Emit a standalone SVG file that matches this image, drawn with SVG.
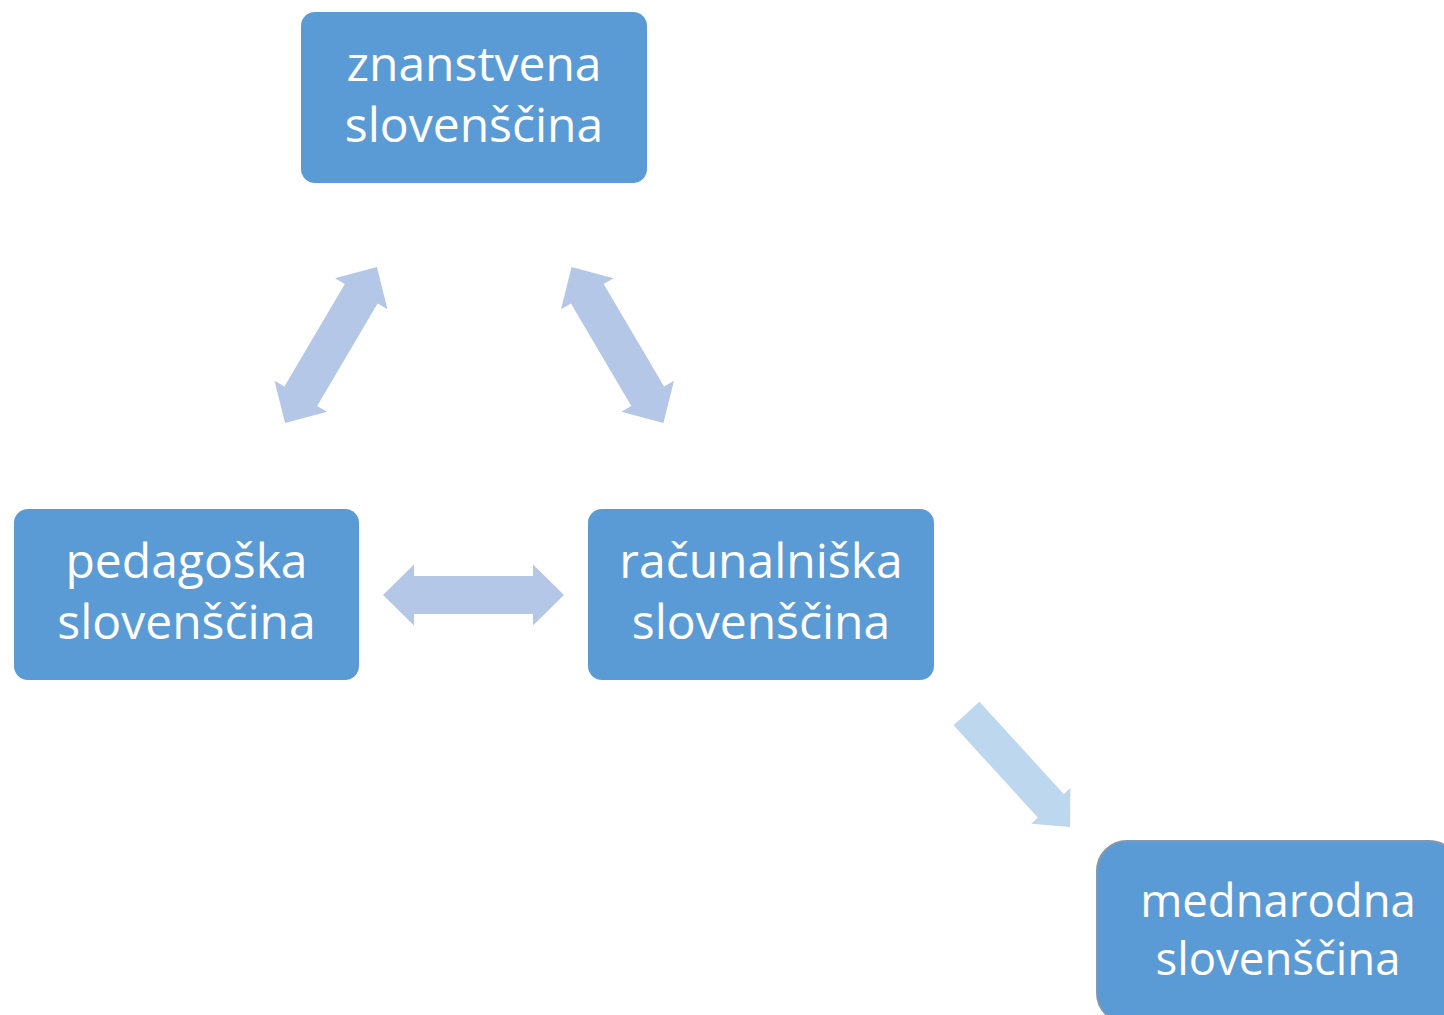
<svg xmlns="http://www.w3.org/2000/svg" width="1444" height="1015" viewBox="0 0 1444 1015">
<defs>
<style>
.box{fill:#5B9BD5}
.lbl{font-family:"Open Sans","Noto Sans","Liberation Sans",sans-serif;font-size:48px;fill:#FFFFFF;text-anchor:middle}
.sm{font-size:45.5px}
.dbl{fill:#B4C7E7}
.sgl{fill:#BDD7EE}
</style>
<polygon id="dblArrow" points="-90.5,0 -59.5,-30.5 -59.5,-19 59.5,-19 59.5,-30.5 90.5,0 59.5,30.5 59.5,19 -59.5,19 -59.5,30.5"/>
</defs>
<rect width="1444" height="1015" fill="#FFFFFF"/>
<g id="connectors">
<use href="#dblArrow" class="dbl" transform="translate(331,345) rotate(-59.5)"/>
<use href="#dblArrow" class="dbl" transform="translate(617.5,345) rotate(59.5)"/>
<use href="#dblArrow" class="dbl" transform="translate(473.5,595)"/>
<polygon class="sgl" points="0,-17.5 125,-17.5 125,-26.5 153.6,0 125,26.5 125,17.5 0,17.5" transform="translate(966.5,713.5) rotate(47.6)"/>
</g>
<g id="znanstvena">
<rect class="box" x="301" y="12" width="346" height="171" rx="14"/>
<text class="lbl" x="474" y="81">znanstvena</text>
<text class="lbl" x="474" y="142">slovenščina</text>
</g>
<g id="pedagoska">
<rect class="box" x="14" y="509" width="345" height="171" rx="14"/>
<text class="lbl" x="186.5" y="578">pedagoška</text>
<text class="lbl" x="186.5" y="639">slovenščina</text>
</g>
<g id="racunalniska">
<rect class="box" x="588" y="509" width="346" height="171" rx="14"/>
<text class="lbl" x="761" y="578">računalniška</text>
<text class="lbl" x="761" y="639">slovenščina</text>
</g>
<g id="mednarodna">
<rect class="box" x="1097" y="841" width="362" height="182" rx="30" stroke="#8497B0" stroke-width="2"/>
<text class="lbl sm" x="1278" y="917">mednarodna</text>
<text class="lbl sm" x="1278" y="975">slovenščina</text>
</g>
</svg>
